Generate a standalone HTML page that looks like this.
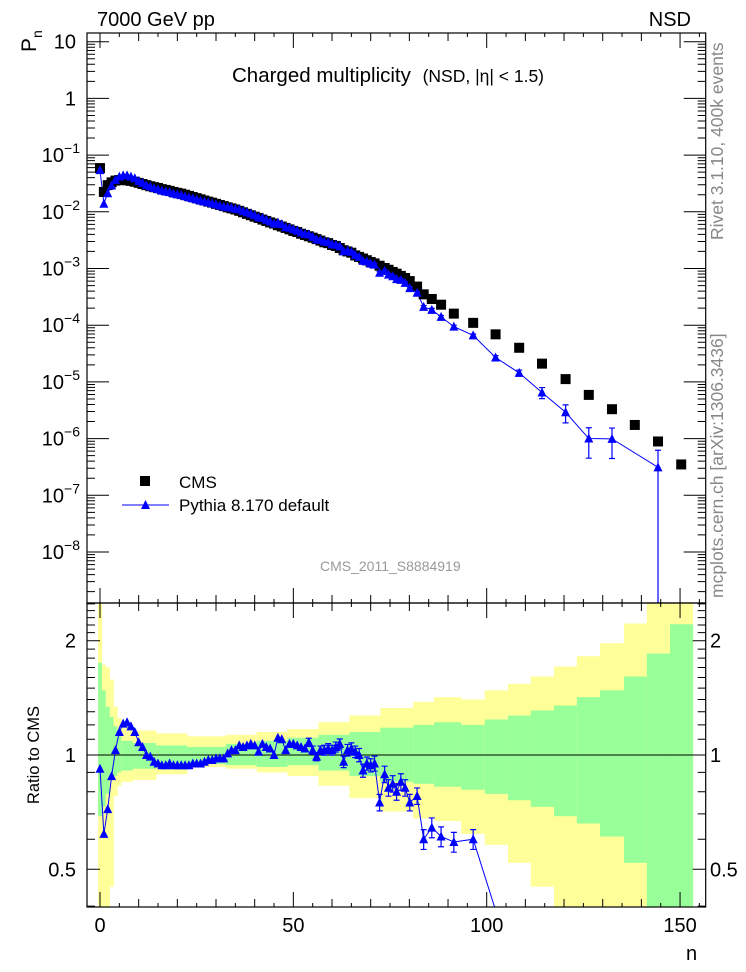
<!DOCTYPE html>
<html><head><meta charset="utf-8"><style>
html,body{margin:0;padding:0;background:#fff;width:746px;height:972px;overflow:hidden}
svg{display:block}
svg text{font-family:"Liberation Sans",sans-serif}
</style></head><body>
<svg id="chart" width="746" height="972" viewBox="0 0 746 972" xmlns="http://www.w3.org/2000/svg">
<defs>
<clipPath id="clipMain"><rect x="87" y="33" width="619" height="570"/></clipPath>
<clipPath id="clipRatio"><rect x="87" y="603" width="619" height="304"/></clipPath>
</defs>
<g id="bands" clip-path="url(#clipRatio)"></g>
<g id="ratioMarks" clip-path="url(#clipRatio)"></g>
<g id="mainMarks" clip-path="url(#clipMain)"></g>
<g id="axes"></g>
<text x="97" y="26" font-size="20">7000 GeV pp</text>
<text x="691" y="26" font-size="20" text-anchor="end">NSD</text>
<text transform="translate(36,52) rotate(-90)" font-size="21">P<tspan font-size="14" dy="6">n</tspan></text>
<text x="232" y="82" font-size="20.5">Charged multiplicity <tspan font-size="17.5" dx="6">(NSD, |η| &lt; 1.5)</tspan></text>
<text x="320" y="571" font-size="14" fill="#999">CMS_2011_S8884919</text>
<text transform="translate(723,240) rotate(-90)" font-size="17.5" fill="#888">Rivet 3.1.10,  400k events</text>
<text transform="translate(723,598) rotate(-90)" font-size="17.5" fill="#888">mcplots.cern.ch [arXiv:1306.3436]</text>
<text transform="translate(39,755) rotate(-90)" font-size="16.5" text-anchor="middle">Ratio to CMS</text>
<text x="686" y="960" font-size="20">n</text>
<g>
<rect x="140" y="476" width="10" height="10" fill="#000"/>
<text x="179" y="488" font-size="17">CMS</text>
<line x1="122" y1="505" x2="169" y2="505" stroke="#00f" stroke-width="1"/>
<polygon points="145.5,500 141,509 150,509" fill="#00f"/>
<text x="179" y="511" font-size="17">Pythia 8.170 default</text>
</g>
</svg>
<script>
const nVals=[0,1,2,3,4,5,6,7,8,9,10,11,12,13,14,15,16,17,18,19,20,21,22,23,24,25,26,27,28,29,30,31,32,33,34,35,36,37,38,39,40,41,42,43,44,45,46,47,48,49,50,51,52,53,54,55,56,57,58,59,60,61,62,63,64,65,66,67,68,69,70,71,72.3,73.6,74.6,75.7,76.7,77.8,78.9,80.1,82,83.7,85.8,88.2,91.5,96.5,102.3,108.4,114.3,120.4,126.4,132.4,138.3,144.3,150.3];
const cmsVals=[0.059,0.0224,0.0295,0.0331,0.0355,0.0363,0.0363,0.0359,0.0351,0.0339,0.0324,0.0309,0.0295,0.0282,0.0272,0.0263,0.0251,0.0243,0.0234,0.0224,0.0216,0.0209,0.0200,0.0191,0.0182,0.0174,0.0166,0.0158,0.0151,0.0145,0.0138,0.0132,0.0126,0.0120,0.0115,0.0110,0.0104,0.0098,0.0092,0.0087,0.0082,0.0078,0.0073,0.0069,0.0065,0.0062,0.0058,0.0055,0.0052,0.0049,0.0046,0.0044,0.0041,0.0039,0.0037,0.0035,0.0033,0.0031,0.0029,0.0028,0.0026,0.0025,0.0023,0.0021,0.0020,0.0019,0.0017,0.0016,0.0015,0.0014,0.0013,0.00123,0.00112,0.00102,0.00095,0.00087,0.00081,0.00074,0.00068,0.00060,0.00048,0.00035,0.00029,0.00023,1.6e-4,1.1e-4,6.9e-5,4.0e-5,2.1e-5,1.12e-5,5.9e-6,3.3e-6,1.74e-6,8.9e-7,3.5e-7];
const ratioVals=[0.92,0.62,0.72,0.88,1.03,1.15,1.21,1.22,1.19,1.15,1.08,1.05,1.0,0.99,0.96,0.95,0.94,0.94,0.95,0.94,0.94,0.94,0.94,0.94,0.95,0.95,0.95,0.96,0.97,0.97,0.98,0.98,0.98,1.01,1.03,1.03,1.06,1.05,1.06,1.07,1.06,1.02,1.07,1.05,1.04,1.0,1.11,1.1,1.03,1.07,1.07,1.06,1.05,1.04,1.08,1.03,0.99,1.03,1.03,1.04,1.03,1.05,1.07,0.96,1.03,1.04,1.02,1.0,0.91,0.95,0.94,0.95,0.75,0.89,0.82,0.84,0.80,0.85,0.82,0.75,0.78,0.60,0.644,0.61,0.59,0.60,0.39,0.36,0.31,0.26,0.17,0.30,0,0.35,0];
const pyRelErr=[0.005,0.005,0.005,0.005,0.005,0.005,0.005,0.005,0.005,0.005,0.005,0.005,0.005,0.005,0.005,0.005,0.005,0.005,0.005,0.005,0.005,0.005,0.005,0.005,0.005,0.005,0.005,0.005,0.005,0.005,0.005,0.005,0.005,0.005,0.005,0.005,0.005,0.005,0.005,0.005,0.01,0.01,0.01,0.01,0.01,0.015,0.015,0.015,0.015,0.015,0.02,0.02,0.02,0.02,0.025,0.025,0.025,0.025,0.03,0.03,0.03,0.03,0.03,0.035,0.035,0.035,0.035,0.04,0.04,0.04,0.04,0.045,0.05,0.05,0.05,0.05,0.05,0.05,0.05,0.05,0.05,0.06,0.06,0.06,0.06,0.06,0.08,0.12,0.22,0.35,0.55,0.55,0,1.0,0];
const bandEdges=[-0.5,0.5,1.5,2.5,3.5,4.5,5.5,8.5,14.5,22.5,32.5,40.5,48.5,56.5,64.5,72.5,81,86.4,93.4,99.5,105.5,111.4,117.4,123.3,129.3,135.5,141.4,147.4,153.3];
const yellowUp=[2.6,1.73,1.70,1.58,1.34,1.25,1.19,1.16,1.14,1.12,1.13,1.15,1.17,1.22,1.27,1.33,1.38,1.42,1.40,1.48,1.54,1.61,1.71,1.82,1.97,2.22,2.6,2.6];
const greenUp=[1.75,1.48,1.34,1.26,1.19,1.12,1.09,1.075,1.06,1.05,1.07,1.09,1.11,1.13,1.15,1.18,1.20,1.22,1.20,1.24,1.27,1.31,1.35,1.42,1.48,1.61,1.85,2.21];
const greenLo=[0.69,0.73,0.79,0.86,0.88,0.90,0.91,0.92,0.935,0.947,0.94,0.93,0.94,0.91,0.88,0.85,0.84,0.825,0.81,0.79,0.76,0.73,0.69,0.66,0.61,0.52,0.3,0.3];
const yellowLo=[0.3,0.3,0.3,0.45,0.78,0.83,0.85,0.86,0.89,0.93,0.92,0.90,0.88,0.83,0.77,0.71,0.68,0.67,0.62,0.58,0.52,0.45,0.3,0.3,0.3,0.3,0.3,0.3];
const xTicks=[0,50,100,150];
const yMainTicks=[-8,-7,-6,-5,-4,-3,-2,-1,0,1];
const ratioTicks=[0.5,1,2];

const NS='http://www.w3.org/2000/svg';
function mk(tag,attrs,parent){const e=document.createElementNS(NS,tag);for(const k in attrs)e.setAttribute(k,attrs[k]);parent.appendChild(e);return e;}
const L=87,R=705.7,T=33,MB=603,RB=907;
const X=n=>100+n*3.867;
const YM=v=>41.7+(1-Math.log10(v))*56.7;
const YR=r=>755-Math.log2(r)*114.3;
const RMIN=0.398;

const bands=document.getElementById('bands');
for(let i=0;i<yellowUp.length;i++){
  const x0=X(bandEdges[i]),x1=X(bandEdges[i+1]);
  const y=mk('rect',{x:x0,y:YR(yellowUp[i]),width:x1-x0+0.3,height:YR(yellowLo[i])-YR(yellowUp[i]),fill:'#ffff99'},bands);
  
  
  const g=mk('rect',{x:x0,y:YR(greenUp[i]),width:x1-x0+0.3,height:YR(greenLo[i])-YR(greenUp[i]),fill:'#99ff99'},bands);
  
  
}
const one=mk('line',{x1:L,x2:R,y1:YR(1),y2:YR(1),stroke:'#000','stroke-width':1},bands);



const main=document.getElementById('mainMarks');
const ratio=document.getElementById('ratioMarks');
let pyPts=[],rPts=[];
for(let i=0;i<nVals.length;i++){
  const r=ratioVals[i];if(r>0){const p=cmsVals[i]*r;pyPts.push([X(nVals[i]),YM(p)]);rPts.push([X(nVals[i]),YR(r)]);}
}
const pl=mk('polyline',{points:pyPts.map(p=>p.join(',')).join(' '),fill:'none',stroke:'#00f','stroke-width':1},main);


const rl=mk('polyline',{points:rPts.map(p=>p.join(',')).join(' '),fill:'none',stroke:'#00f','stroke-width':1},ratio);


for(let i=0;i<nVals.length;i++){
  const x=X(nVals[i]);
  const sq=mk('rect',{x:x-5,y:YM(cmsVals[i])-5,width:10,height:10,fill:'#000'},main);
  
  
}
for(let i=0;i<nVals.length;i++){
  const r=ratioVals[i];if(!(r>0))continue;
  const x=X(nVals[i]);const p=cmsVals[i]*r;const e=pyRelErr[i];
  const yp=YM(p);
  if(e>0.02){
    const lo=p*(1-e);const ylo=lo>0?YM(lo):MB+5;const yhi=YM(p*(1+e));
    const eb=mk('path',{d:`M${x},${yhi}V${ylo}M${x-3},${yhi}H${x+3}`+(lo>0?`M${x-3},${ylo}H${x+3}`:''),stroke:'#00f','stroke-width':1.2,fill:'none'},main);
    
    
    if(r>RMIN){
      const rlo=r*(1-e);const ryl=YR(rlo);const ryh=YR(r*(1+e));
      const reb=mk('path',{d:`M${x},${ryh}V${ryl}M${x-3},${ryh}H${x+3}M${x-3},${ryl}H${x+3}`,stroke:'#00f','stroke-width':1.2,fill:'none'},ratio);
      
      
    }
  }
  const tr=mk('polygon',{points:`${x},${yp-5} ${x-4.5},${yp+4} ${x+4.5},${yp+4}`,fill:'#00f'},main);
  
  
  if(r>RMIN){
    const yr=YR(r);
    const rt=mk('polygon',{points:`${x},${yr-5} ${x-4.5},${yr+4} ${x+4.5},${yr+4}`,fill:'#00f'},ratio);
    
    
  }
}

const ax=document.getElementById('axes');
const fr1=mk('rect',{x:L,y:T,width:R-L,height:MB-T,fill:'none',stroke:'#000','stroke-width':1.2},ax);


const fr2=mk('rect',{x:L,y:MB,width:R-L,height:RB-MB,fill:'none',stroke:'#000','stroke-width':1.2},ax);


let d='';
for(let n=0;n<=155;n+=5){const x=X(n);const len=n%50===0?15:(n%10===0?8:4);
  for(const yb of [MB,RB])d+=`M${x},${yb}v${-len}`;
  for(const yt of [T,MB])d+=`M${x},${yt}v${len}`;}
for(let k=-9;k<=1;k++){for(let m=1;m<=9;m++){const v=m*Math.pow(10,k);const y=YM(v);if(y<T||y>MB)continue;const len=m===1?22:8;d+=`M${L},${y}h${len}M${R},${y}h${-len}`;}}
const rt=[0.4,0.5,0.6,0.7,0.8,0.9,1,1.1,1.2,1.3,1.4,1.5,1.6,1.7,1.8,1.9,2,2.1,2.2,2.3,2.4,2.5];
for(const v of rt){const y=YR(v);if(y<MB||y>RB)continue;const len=(v===0.5||v===1||v===2)?13:8;d+=`M${L},${y}h${len}M${R},${y}h${-len}`;}
const tk=mk('path',{d:d,stroke:'#000','stroke-width':1,fill:'none'},ax);


for(const t of xTicks){const tx=mk('text',{x:X(t),y:932,'font-size':20,'text-anchor':'middle'},ax);tx.textContent=t;
  
  }
for(const k of yMainTicks){const y=YM(Math.pow(10,k));const t=mk('text',{x:76,y:y+7,'font-size':20,'text-anchor':'end'},ax);
  
  
  if(k===0)t.textContent='1';else if(k===1)t.textContent='10';else{t.textContent='10';const s=document.createElementNS(NS,'tspan');s.setAttribute('font-size','14');s.setAttribute('dy','-9');s.textContent='\u2212'+(-k);t.appendChild(s);t.setAttribute('x',80);}}
for(const v of ratioTicks){const y=YR(v);
  const a=mk('text',{x:76,y:y+7,'font-size':20,'text-anchor':'end'},ax);a.textContent=v;
  
  
  const b=mk('text',{x:710,y:y+7,'font-size':20},ax);b.textContent=v;
  
  }
</script>
</body></html>
